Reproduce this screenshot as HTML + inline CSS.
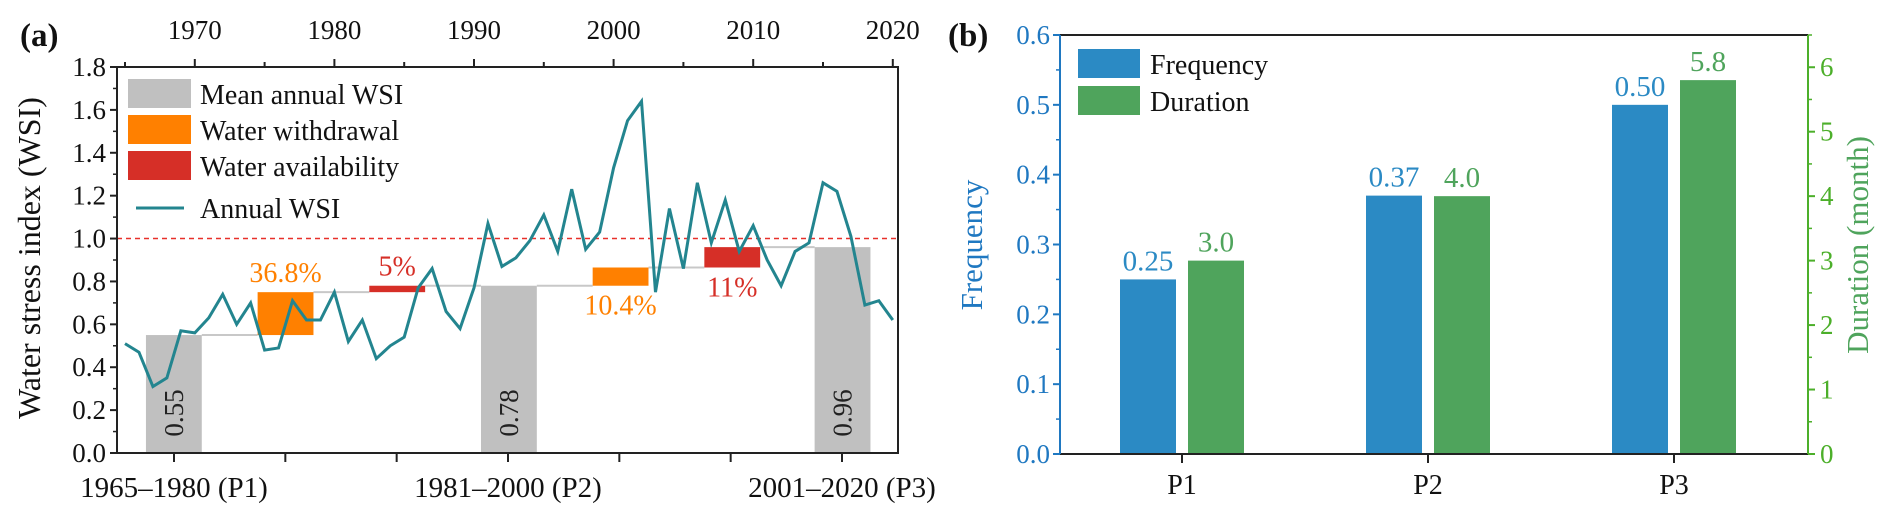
<!DOCTYPE html>
<html><head><meta charset="utf-8"><style>
body{margin:0;background:#fff;}
svg{display:block;font-family:"Liberation Serif",serif;}
</style></head><body>
<svg id="c" width="1892" height="523" viewBox="0 0 1892 523" xmlns="http://www.w3.org/2000/svg"></svg>
<script>
// Panel (a) data
const years=[1965,1966,1967,1968,1969,1970,1971,1972,1973,1974,1975,1976,1977,1978,1979,1980,1981,1982,1983,1984,1985,1986,1987,1988,1989,1990,1991,1992,1993,1994,1995,1996,1997,1998,1999,2000,2001,2002,2003,2004,2005,2006,2007,2008,2009,2010,2011,2012,2013,2014,2015,2016,2017,2018,2019,2020];
const wsi=[0.51,0.47,0.31,0.35,0.57,0.56,0.63,0.74,0.60,0.70,0.48,0.49,0.71,0.62,0.62,0.75,0.52,0.62,0.44,0.50,0.54,0.77,0.86,0.66,0.58,0.77,1.07,0.87,0.91,0.99,1.11,0.94,1.23,0.95,1.03,1.33,1.55,1.64,0.75,1.14,0.86,1.26,0.98,1.18,0.94,1.06,0.90,0.78,0.94,0.98,1.26,1.22,1.01,0.69,0.71,0.62];
const meanStart=[1966.5,1990.5,2014.4];
const meanVals=[0.55,0.78,0.96];
const stepStart=[1974.5,1982.5,1998.5,2006.5];
const stepFrom=[0.55,0.75,0.78,0.865];
const stepTo=[0.75,0.78,0.865,0.96];
const stepLabels=['36.8%','5%','10.4%','11%'];
const stepKinds=['withdrawal','availability','withdrawal','availability'];
const yTicksA=[0,0.2,0.4,0.6,0.8,1.0,1.2,1.4,1.6,1.8];
const topYears=[1970,1980,1990,2000,2010,2020];
const periodLabels=['1965–1980 (P1)','1981–2000 (P2)','2001–2020 (P3)'];
// Panel (b) data
const cats=['P1','P2','P3'];
const freq=[0.25,0.37,0.50];
const dur=[3.0,4.0,5.8];
const freqTicks=[0,0.1,0.2,0.3,0.4,0.5,0.6];
const durTicks=[0,1,2,3,4,5,6];

const S='http://www.w3.org/2000/svg';
const svg=document.getElementById('c');
function mk(tag,attrs,parent,text){const e=document.createElementNS(S,tag);for(const k in attrs)e.setAttribute(k,attrs[k]);if(text!==undefined)e.textContent=text;(parent||svg).appendChild(e);return e;}

// ---------- Panel A ----------
const AL=117,AR=898,AT=67,AB=453;
const xA=y=>125+(y-1965)*13.96;
const yA=v=>AB-v*(AB-AT)/1.8;
const gA=mk('g',{});

const C_GRAY='#c0c0c0',C_OR='#ff8000',C_RED='#d62f27',C_TEAL='#23858f';
const segX=[[xA(meanStart[0]+4),xA(stepStart[0])],[xA(stepStart[0]+4),xA(stepStart[1])],[xA(stepStart[1]+4),xA(meanStart[1])],[xA(meanStart[1]+4),xA(stepStart[2])],[xA(stepStart[2]+4),xA(stepStart[3])],[xA(stepStart[3]+4),xA(meanStart[2])]];
const segV=[meanVals[0],stepTo[0],stepTo[1],meanVals[1],stepTo[2],stepTo[3]];
segX.forEach((s,i)=>{const l=mk('line',{x1:s[0],x2:s[1],y1:yA(segV[i]),y2:yA(segV[i]),stroke:'#c8c8c8','stroke-width':2},gA);});
meanStart.forEach((s,i)=>{
 const r=mk('rect',{x:xA(s),y:yA(meanVals[i]),width:xA(s+4)-xA(s),height:AB-yA(meanVals[i]),fill:C_GRAY},gA);
 
 const cx=xA(s+2),cy=AB-40;
 const t=mk('text',{x:cx,y:cy,'font-size':27,fill:'#222','text-anchor':'middle','dominant-baseline':'central',transform:`rotate(-90 ${cx} ${cy})`},gA,meanVals[i].toFixed(2));
 
});
stepStart.forEach((s,i)=>{
 const col=stepKinds[i]==='withdrawal'?C_OR:C_RED;
 const y1=yA(stepTo[i]),y2=yA(stepFrom[i]);
 const r=mk('rect',{x:xA(s),y:y1,width:xA(s+4)-xA(s),height:y2-y1,fill:col},gA);
 
 const above=(i<2);
 const ty=above?y1-10:y2+29;
 const t=mk('text',{x:xA(s+2),y:ty,'font-size':28,fill:col,'text-anchor':'middle'},gA,stepLabels[i]);
 
});
const th=mk('line',{x1:AL,x2:AR,y1:yA(1),y2:yA(1),stroke:'#e8302a','stroke-width':1.5,'stroke-dasharray':'5,4'},gA);

const pts=years.map((y,i)=>xA(y)+','+yA(wsi[i])).join(' ');
const pl=mk('polyline',{points:pts,fill:'none',stroke:C_TEAL,'stroke-width':3,'stroke-linejoin':'miter'},gA);

const fr=mk('rect',{x:AL,y:AT,width:AR-AL,height:AB-AT,fill:'none',stroke:'#222','stroke-width':2},gA);

yTicksA.forEach(v=>{
 mk('line',{x1:AL-7,x2:AL,y1:yA(v),y2:yA(v),stroke:'#222','stroke-width':2},gA);
 if(v<1.8) mk('line',{x1:AL-4,x2:AL,y1:yA(v+0.1),y2:yA(v+0.1),stroke:'#222','stroke-width':1.5},gA);
 const t=mk('text',{x:AL-11,y:yA(v)+9,'font-size':27,'text-anchor':'end',fill:'#111'},gA,v.toFixed(1));
 
});
for(let y=1965;y<=2020;y+=5){mk('line',{x1:xA(y),x2:xA(y),y1:AT,y2:AT-(y%10===0?8:5),stroke:'#222','stroke-width':2},gA);}
topYears.forEach(y=>{const t=mk('text',{x:xA(y),y:39,'font-size':27,'text-anchor':'middle',fill:'#111'},gA,String(y));});
const plx=[174,508,842];
for(let k=0;k<7;k++){const x=174+k*(842-174)/6;mk('line',{x1:x,x2:x,y1:AB,y2:AB+9,stroke:'#222','stroke-width':2},gA);}
periodLabels.forEach((p,i)=>{const t=mk('text',{x:plx[i],y:497,'font-size':29,'text-anchor':'middle',fill:'#111'},gA,p);});
const yt=mk('text',{x:40,y:258,'font-size':32,'text-anchor':'middle',fill:'#111',transform:'rotate(-90 40 258)'},gA,'Water stress index (WSI)');

const la=mk('text',{x:20,y:46,'font-size':33,'font-weight':'bold',fill:'#111'},gA,'(a)');

const legA=[['Mean annual WSI',C_GRAY,79],['Water withdrawal',C_OR,115],['Water availability',C_RED,151]];
legA.forEach(l=>{const r=mk('rect',{x:128,y:l[2],width:63,height:29,fill:l[1]},gA);
 const t=mk('text',{x:200,y:l[2]+25,'font-size':28,fill:'#111'},gA,l[0]);});
const ll=mk('line',{x1:136,x2:184,y1:208,y2:208,stroke:C_TEAL,'stroke-width':3},gA);
const lt=mk('text',{x:200,y:218,'font-size':28,fill:'#111'},gA,'Annual WSI');

// ---------- Panel B ----------
const BL=1060,BR=1808,BT=35,BB=454;
const xB=i=>1182+i*246;
const yF=v=>BB-v*(BB-BT)/0.6;
const yD=v=>BB-v*(BB-BT)/6.5;
const C_BLUE='#2b8ac4',C_GRN='#4fa45c',C_AX_G='#4caf2a',C_AX_B='#1f78c1';
const gB=mk('g',{});

cats.forEach((c,i)=>{
 const b=mk('rect',{x:xB(i)-62,y:yF(freq[i]),width:56,height:BB-yF(freq[i]),fill:C_BLUE},gB);
 
 const g=mk('rect',{x:xB(i)+6,y:yD(dur[i]),width:56,height:BB-yD(dur[i]),fill:C_GRN},gB);
 
 const t1=mk('text',{x:xB(i)-34,y:yF(freq[i])-9,'font-size':29,fill:C_BLUE,'text-anchor':'middle'},gB,freq[i].toFixed(2));
 
 const t2=mk('text',{x:xB(i)+34,y:yD(dur[i])-9,'font-size':29,fill:C_GRN,'text-anchor':'middle'},gB,dur[i].toFixed(1));
 
 mk('line',{x1:xB(i),x2:xB(i),y1:BB,y2:BB+9,stroke:'#222','stroke-width':2},gB);
 const ct=mk('text',{x:xB(i),y:494,'font-size':28,fill:'#111','text-anchor':'middle'},gB,c);
 
});
mk('line',{x1:BL,x2:BR,y1:BT,y2:BT,stroke:'#222','stroke-width':2},gB);
mk('line',{x1:BL,x2:BR,y1:BB,y2:BB,stroke:'#222','stroke-width':2},gB);
mk('line',{x1:BL,x2:BL,y1:BT,y2:BB,stroke:C_AX_B,'stroke-width':2},gB);
mk('line',{x1:BR,x2:BR,y1:BT,y2:BB,stroke:C_AX_G,'stroke-width':2},gB);
freqTicks.forEach(v=>{
 mk('line',{x1:BL-7,x2:BL,y1:yF(v),y2:yF(v),stroke:C_AX_B,'stroke-width':2},gB);
 if(v<0.6) mk('line',{x1:BL-4,x2:BL,y1:yF(v+0.05),y2:yF(v+0.05),stroke:C_AX_B,'stroke-width':1.5},gB);
 const t=mk('text',{x:BL-10,y:yF(v)+9,'font-size':27,fill:C_AX_B,'text-anchor':'end'},gB,v.toFixed(1));
 
});
durTicks.forEach(v=>{
 mk('line',{x1:BR,x2:BR+7,y1:yD(v),y2:yD(v),stroke:C_AX_G,'stroke-width':2},gB);
 mk('line',{x1:BR,x2:BR+4,y1:yD(v+0.5),y2:yD(v+0.5),stroke:C_AX_G,'stroke-width':1.5},gB);
 const t=mk('text',{x:BR+12,y:yD(v)+9,'font-size':27,fill:C_AX_G},gB,String(v));
 
});
const ft=mk('text',{x:982,y:245,'font-size':31,fill:C_AX_B,'text-anchor':'middle',transform:'rotate(-90 982 245)'},gB,'Frequency');

const dt=mk('text',{x:1868,y:245,'font-size':31,fill:C_GRN,'text-anchor':'middle',transform:'rotate(-90 1868 245)'},gB,'Duration (month)');

const lb=mk('text',{x:948,y:46,'font-size':33,'font-weight':'bold',fill:'#111'},gB,'(b)');

[['Frequency',C_BLUE,49],['Duration',C_GRN,86]].forEach(l=>{
 const r=mk('rect',{x:1078,y:l[2],width:62,height:29,fill:l[1]},gB);
 const t=mk('text',{x:1150,y:l[2]+25,'font-size':28,fill:'#111'},gB,l[0]);
});
</script>
</body></html>
